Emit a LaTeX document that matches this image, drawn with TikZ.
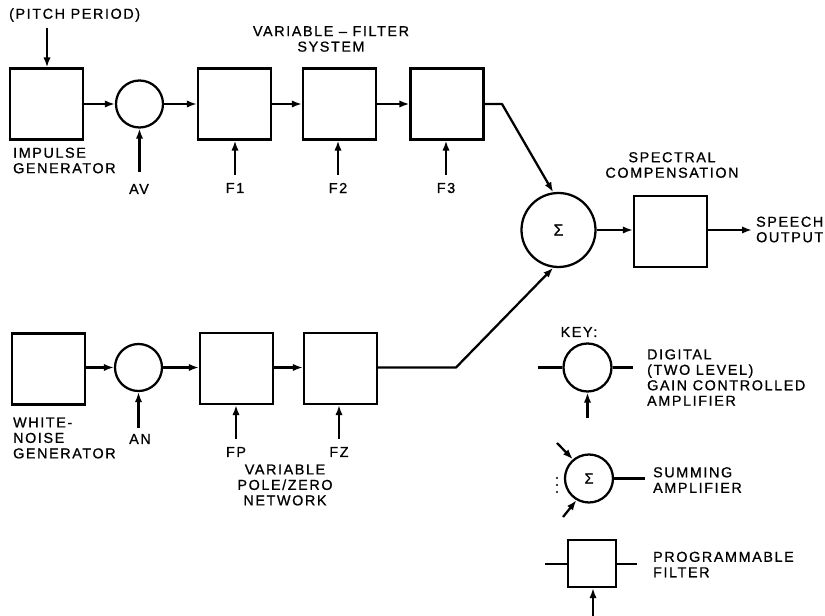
\documentclass[tikz,border=0pt]{standalone}
\usepackage{fontspec}
\setmainfont{Liberation Sans}[LetterSpace=11,FakeBold=0.8]
\usetikzlibrary{arrows.meta}
\begin{document}
\begin{tikzpicture}[x=0.75pt,y=-0.75pt,
  line width=1.7pt,
  arr/.style={-{Latex[length=7.5pt,width=5.5pt]}},
  blk/.style={draw,rectangle,minimum width=54.75pt,minimum height=53.25pt,inner sep=0pt},
  amp/.style={draw,circle,minimum size=35.25pt,inner sep=0pt},
  sumc/.style={draw,circle,minimum size=55.5pt,inner sep=0pt,font=\fontsize{12}{12}\selectfont},
  kamp/.style={draw,circle,minimum size=36pt,inner sep=0pt,font=\fontsize{11}{11}\selectfont},
  kblk/.style={draw,rectangle,minimum width=36pt,minimum height=35.25pt,inner sep=0pt},
  lbl/.style={inner sep=0pt,font=\fontsize{10.8}{11.6}\selectfont},
  lblw/.style={lbl,anchor=west,align=left},
  lblc/.style={lbl,align=center}]
\useasboundingbox (0,0) rectangle (825,616);
% ---------- top row ----------
\node[blk] (imp) at (46.5,104) {};
\node[amp] (av) at (139.5,104) {};
\node[blk] (f1) at (234.5,104) {};
\node[blk] (f2) at (339.5,104) {};
\node[blk] (f3) at (447,104) {};
\node[lbl,anchor=west] (pitch) at (8,15) {(PITCH PERIOD)};
\coordinate (pitchS) at (47,28);
\node[lblc] (vfs) at (331,39) {VARIABLE – FILTER\\SYSTEM};
\node[lblw] (impl) at (12,160.5) {IMPULSE\\GENERATOR};
\node[lbl] (avl) at (139,189) {AV};
\node[lbl] (f1l) at (235,188) {F1};
\node[lbl] (f2l) at (338,188) {F2};
\node[lbl] (f3l) at (446,188) {F3};
\coordinate (avS) at (139.5,172);
\coordinate (f1S) at (235,175);
\coordinate (f2S) at (338,175);
\coordinate (f3S) at (446,175);
\draw[arr] (pitchS) -- (imp.north -| pitchS);
\draw[arr] (imp) -- (av);
\draw[arr] (av) -- (f1);
\draw[arr] (f1) -- (f2);
\draw[arr] (f2) -- (f3);
\draw[arr] (avS) -- (av.south);
\draw[arr] (f1S) -- (f1.south -| f1S);
\draw[arr] (f2S) -- (f2.south -| f2S);
\draw[arr] (f3S) -- (f3.south -| f3S);
% ---------- summing and output ----------
\node[sumc] (sum) at (558.5,230) {Σ};
\node[blk] (spec) at (670.5,231.5) {};
\node[lblc] (specl) at (672,165) {SPECTRAL\\COMPENSATION};
\node[lblw] (speech) at (755,229.5) {SPEECH\\OUTPUT};
\coordinate (topbend) at (502,104);
\coordinate (outE) at (752,230);
\draw[arr,line join=round] (f3.east) -- (topbend) -- (sum.98);
\draw[arr] (sum) -- (spec.west |- sum);
\draw[arr] (spec.east |- sum) -- (outE);
% ---------- bottom row ----------
\node[blk] (wn) at (48.5,369) {};
\node[amp] (an) at (138.5,367.5) {};
\node[blk] (fp) at (236.5,368.5) {};
\node[blk] (fz) at (340.5,368.5) {};
\node[lblw] (wnl) at (12,438) {WHITE-\\NOISE\\GENERATOR};
\node[lbl] (anl) at (140,439) {AN};
\node[lbl] (fpl) at (236,452) {FP};
\node[lbl] (fzl) at (339,452) {FZ};
\node[lblc] (vpz) at (285,485) {VARIABLE\\POLE/ZERO\\NETWORK};
\coordinate (anS) at (138.5,428);
\coordinate (fpS) at (236,439);
\coordinate (fzS) at (339,439);
\coordinate (botbend) at (456,367.5);
\draw[arr] (wn.east |- an) -- (an);
\draw[arr] (an) -- (fp.west |- an);
\draw[arr] (fp.east |- an) -- (fz.west |- an);
\draw[arr] (anS) -- (an.south);
\draw[arr] (fpS) -- (fp.south -| fpS);
\draw[arr] (fzS) -- (fz.south -| fzS);
\draw[arr,line join=round] (fz.east |- an) -- (botbend) -- (sum.262);
% ---------- key ----------
\node[lbl] (key) at (579,332) {KEY:};
\node[kamp] (kamp) at (587.5,367.5) {};
\coordinate (kaW) at (538,367.5);
\coordinate (kaE) at (633,367.5);
\coordinate (kaS) at (587.5,418);
\draw (kaW) -- (kamp.west);
\draw (kamp.east) -- (kaE);
\draw[arr] (kaS) -- (kamp.south);
\node[lblw] (kampl) at (646,377.5) {DIGITAL\\(TWO LEVEL)\\GAIN CONTROLLED\\AMPLIFIER};
\node[kamp] (ksum) at (589,478.5) {Σ};
\coordinate (ksE) at (645,478.5);
\coordinate (ksA) at (557,443);
\coordinate (ksB) at (563,517);
\draw (ksum.east) -- (ksE);
\draw[arr] (ksA) -- (ksum.130);
\draw[arr] (ksB) -- (ksum.240);
\foreach \yy in {478,485,492} \fill (557,\yy) circle (0.9pt);
\node[lblw] (ksuml) at (652,480) {SUMMING\\AMPLIFIER};
\node[kblk] (kblk) at (592,563.5) {};
\coordinate (kbW) at (545,564);
\coordinate (kbE) at (637,564);
\coordinate (kbS) at (593,617);
\draw (kbW) -- (kblk.west |- kbW);
\draw (kblk.east |- kbE) -- (kbE);
\draw[arr] (kbS) -- (kblk.south -| kbS);
\node[lblw] (kblkl) at (652,564.5) {PROGRAMMABLE\\FILTER};
\end{tikzpicture}
\end{document}
